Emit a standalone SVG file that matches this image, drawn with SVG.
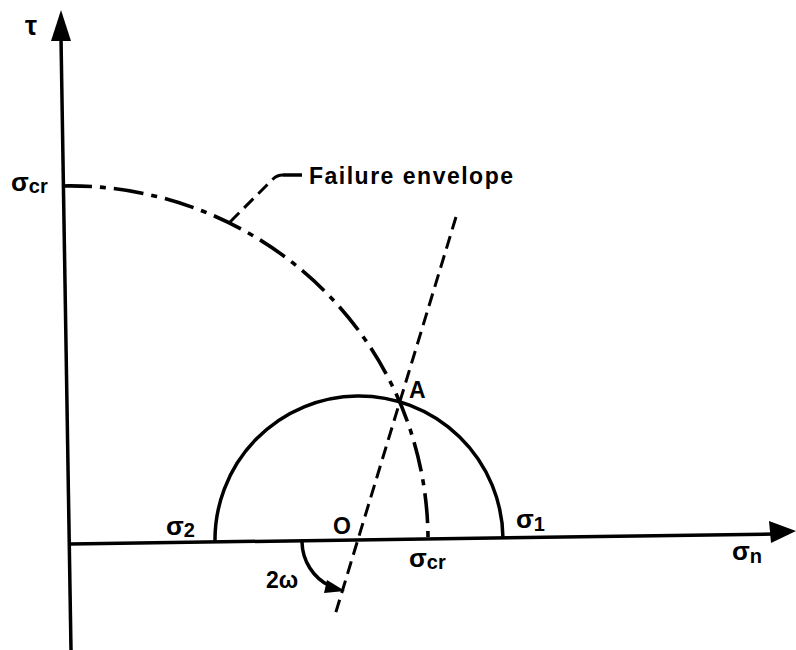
<svg xmlns="http://www.w3.org/2000/svg" width="796" height="650" viewBox="0 0 796 650">
<style>
.ln{fill:none;stroke:#000;stroke-width:3.5;stroke-linecap:butt}
.dash{fill:none;stroke:#000;stroke-width:3;stroke-dasharray:13 7}
.dd{fill:none;stroke:#000;stroke-width:3.6;stroke-dasharray:30 8 6 8}
.t{font-family:"Liberation Sans",Arial,sans-serif;font-weight:bold;fill:#000}
</style>
<rect width="796" height="650" fill="#fff"/>
<g id="axes">
<path class="ln" d="M61,38 L71,650"/>
<polygon points="61,10 51,41 71,41"/>
<path class="ln" d="M70,544 L775,534"/>
<polygon points="796,531 769,521 771,543"/>
</g>
<g id="connectors">
<path class="dd" d="M62,186 A358,354 0 0 1 428,540"/>
<path class="dash" d="M456,217 L335,615"/>
<path class="dash" d="M230,222 L273,179 Q277,175 283,175"/>
<path class="ln" d="M283,175 L302,175" stroke-width="3"/>
<path class="ln" d="M302,542 A50,50 0 0 0 330,586" stroke-width="3"/>
<polygon points="345,591 327,580 324,593"/>
</g>
<g id="mohr-circle">
<path class="ln" d="M215,542 A144,144 0 0 1 503,538"/>
</g>
<g id="labels">
<text class="t" x="25" y="35" font-size="27">τ</text>
<text class="t" x="11" y="191" font-size="26">σ<tspan font-size="20" dy="2">cr</tspan></text>
<text class="t" x="309" y="184" font-size="23" textLength="204">Failure envelope</text>
<text class="t" x="409" y="398" font-size="23">A</text>
<text class="t" x="333" y="534" font-size="23">O</text>
<text class="t" x="166" y="535" font-size="26">σ<tspan font-size="20" dy="2">2</tspan></text>
<text class="t" x="516" y="528" font-size="26">σ<tspan font-size="20" dy="3">1</tspan></text>
<text class="t" x="409" y="567" font-size="26">σ<tspan font-size="20" dy="2">cr</tspan></text>
<text class="t" x="732" y="560" font-size="26">σ<tspan font-size="20" dy="3">n</tspan></text>
<text class="t" x="266" y="588" font-size="23">2ω</text>
</g>
</svg>
